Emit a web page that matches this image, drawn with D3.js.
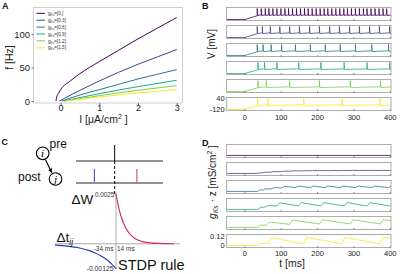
<!DOCTYPE html>
<html>
<head>
<meta charset="utf-8">
<script src="https://cdn.jsdelivr.net/npm/d3@7"></script>
<style>
body { margin: 0; background: #fff; }
svg { display: block; font-family: "Liberation Sans", Arial, sans-serif; }
</style>
</head>
<body>
<svg id="fig" width="400" height="274"></svg>
<script>
const svg = d3.select("#fig");

// ---------- data ----------
const gksLabels = ["0.", "0.3", "0.6", "0.9", "1.2", "1.5"];
const colors = ["#440154", "#414487", "#2a788e", "#22a884", "#7ad151", "#fde725"];

// panel A: f-I curves, [I, f]
const fi0 = [[-0.12,0],[-0.1,6],[-0.05,12],[0,17],[0.25,30],[0.5,41],[1,59],[1.5,76],[2,93],[2.5,109],[3,125]];
const fi1 = [[-0.03,0],[0.1,4],[0.5,16],[1,30],[1.5,43],[2,55],[2.5,66],[3,77]];
const fi2 = [[0.03,0],[0.5,9],[1,17],[1.5,25],[2,33],[2.5,40],[3,47]];
const fi3 = [[0.08,0],[1,11],[2,21.5],[3,31]];
const fi4 = [[0.12,0],[1,8],[2,16],[3,23]];
const fi5 = [[0.15,0],[1,6],[2,12],[3,17]];
const fiCurves = [fi0, fi1, fi2, fi3, fi4, fi5];
const aTicksX = [0, 1, 2, 3];
const aTicksY = [0, 50, 100];

// panel B: spike times [ms]
const spikes0 = [34,45,56,66,77,88,99,110,120,131,142,153,164,174,185,196,207,218,228,239,250,261,272,282,293,304,315,326,336,347,358,369,380,390];
const spikes1 = [34,48,70,96,123,150,178,205,233,260,288,315,343,370,398];
const spikes2 = [34,50,72,101,139,180,221,262,304,349,395];
const spikes3 = [36,54,88,148,209,273,336,398];
const spikes4 = [36,59,123,205,290,373];
const spikes5 = [35,64,162,267,372];
const spikeTimes = [spikes0, spikes1, spikes2, spikes3, spikes4, spikes5];
const vRest = -120, vOnset = -65, vPeak = 40, vReset = -62, vPre = -52;
const tTicks = [0, 100, 200, 300, 400];
const vTicks = [40, -120];

// panel D: gKs*z just before / after each spike
const gLow = [
  [],
  [0,0.008,0.016,0.023,0.029,0.033,0.035,0.036,0.036,0.036,0.037,0.037,0.037,0.037,0.037],
  [0,0.018,0.032,0.045,0.05,0.05,0.05,0.05,0.05,0.05,0.05],
  [0,0.028,0.045,0.045,0.045,0.045,0.045,0.045],
  [0,0.028,0.04,0.045,0.045,0.045],
  [0,0.028,0.02,0.02,0.02]
];
const gHigh = [
  [],
  [0.008,0.016,0.023,0.029,0.033,0.035,0.037,0.038,0.039,0.039,0.04,0.04,0.04,0.04,0.04],
  [0.02,0.035,0.05,0.066,0.07,0.07,0.07,0.07,0.07,0.07,0.07],
  [0.03,0.05,0.085,0.088,0.088,0.088,0.088,0.088],
  [0.03,0.07,0.095,0.1,0.1,0.1],
  [0.03,0.1,0.105,0.105,0.105]
];
const gEnd = [0, 0.038, 0.066, 0.088, 0.085, 0.088];
const gTicks = [0.12, 0];

// panel C: STDP window
const stdpDtPos = [0, 3, 6, 10, 15, 20, 30, 40, 55, 70, 95];
const stdpWPos = [0.0025, 0.00203, 0.00163, 0.00123, 0.00086, 0.0006, 0.00029, 0.00014, 0.00005, 0.000017, 0.000002];
const stdpDtNeg = [-100, -80, -60, -45, -34, -25, -15, -8, -3, 0];
const stdpWNeg = [-0.00007, -0.00012, -0.00021, -0.00033, -0.00046, -0.0006, -0.0008, -0.00099, -0.00114, -0.00125];
const preSpike = [0];
const postSpikes = [-21, 23];
const postColors = ["#2a3ec0", "#d1335f"];

// ---------- helpers ----------
function label(g, x, y, txt, size, opts) {
  opts = opts || {};
  return g.append("text").attr("x", x).attr("y", y).text(txt)
    .attr("font-size", size)
    .attr("text-anchor", opts.anchor || "start")
    .attr("font-weight", opts.weight || "normal")
    .attr("fill", opts.fill || "#111");
}

// ---------- panel letters ----------
label(svg, 2, 8.5, "A", 9, {weight: "bold"});
label(svg, 202, 8.5, "B", 9, {weight: "bold"});
label(svg, 1.5, 144.5, "C", 9, {weight: "bold"});
label(svg, 202, 145.5, "D", 9, {weight: "bold"});

// ---------- panel A ----------
const ax = d3.scaleLinear().domain([-0.7, 3.15]).range([33.5, 182.5]);
const ay = d3.scaleLinear().domain([-3, 140]).range([103, 7.5]);
const gA = svg.append("g");

gA.append("rect")
  .attr("x", ax.range()[0]).attr("y", ay.range()[1])
  .attr("width", ax.range()[1] - ax.range()[0])
  .attr("height", ay.range()[0] - ay.range()[1])
  .attr("fill", "none").attr("stroke", "#c4c4c4").attr("stroke-width", 0.8);

gA.append("g")
  .attr("transform", `translate(0,${ay.range()[0]})`)
  .call(d3.axisBottom(ax).tickValues(aTicksX).tickSize(2).tickPadding(0).tickFormat(d3.format("d")))
  .call(g => g.select(".domain").remove())
  .call(g => g.selectAll("text").attr("font-size", 9).attr("font-family", null).attr("fill", "#222"))
  .call(g => g.selectAll("line").attr("stroke", "#666"));

gA.append("g")
  .attr("transform", `translate(${ax.range()[0]},0)`)
  .call(d3.axisLeft(ay).tickValues(aTicksY).tickSize(2).tickPadding(1.5))
  .call(g => g.select(".domain").remove())
  .call(g => g.selectAll("text").attr("font-size", 9.5).attr("font-family", null).attr("fill", "#222"))
  .call(g => g.selectAll("line").attr("stroke", "#666"));

const fiLine = d3.line().x(d => ax(d[0])).y(d => ay(d[1])).curve(d3.curveMonotoneX);
gA.selectAll("path.fi")
  .data(fiCurves)
  .enter()
  .append("path")
  .attr("class", "fi")
  .attr("d", fiLine)
  .attr("fill", "none")
  .attr("stroke", (d, i) => colors[i])
  .attr("stroke-width", 1);

// legend
const leg = gA.append("g").attr("transform", "translate(36.5,13.3)");
gksLabels.forEach(function (lab, i) {
  const row = leg.append("g").attr("transform", `translate(0,${i * 6.9})`);
  row.append("line").attr("x1", 0).attr("x2", 8.5).attr("y1", 0).attr("y2", 0)
    .attr("stroke", colors[i]).attr("stroke-width", 1);
  const t = row.append("text").attr("x", 11.5).attr("y", 0).attr("dy", "0.35em")
    .attr("font-size", 4.6).attr("fill", "#333");
  t.append("tspan").text("g");
  t.append("tspan").text("Ks").attr("font-size", 3.2).attr("dy", 1);
  t.append("tspan").text("=[" + lab + "]").attr("dy", -1);
});

// axis labels
label(gA, 0, 0, "f [Hz]", 10.5, {anchor: "middle", fill: "#222"})
  .attr("transform", "translate(12.5,57.5) rotate(-90)");
const xl = label(gA, 103.5, 123, "", 10.5, {anchor: "middle", fill: "#222"});
xl.append("tspan").text("I [μA/cm");
xl.append("tspan").text("2").attr("font-size", 7).attr("dy", -4);
xl.append("tspan").text(" ]").attr("dy", 4);

// ---------- panels B and D (stacked traces) ----------
const tx = d3.scaleLinear().domain([-50, 402]).range([226.7, 391]);
const rowH = 13, rowStep = 18;
const vy = d3.scaleLinear().domain([-135, 55]).range([rowH, 0]);
const gy = d3.scaleLinear().domain([-0.027, 0.142]).range([rowH, 0]);

function voltagePoints(sp) {
  const pts = [[-50, vRest], [0, vRest], [sp[0], vOnset]];
  sp.forEach(function (t, i) {
    if (i > 0) pts.push([t, vPre]);
    pts.push([t, vPeak], [t + 1, vReset]);
  });
  pts.push([410, vPre]);
  return pts;
}

function gPoints(sp, lo, hi, end) {
  const pts = [[-50, 0]];
  sp.forEach(function (t, i) {
    pts.push([t, lo[i]], [t + 8, hi[i]]);
  });
  pts.push([410, end]);
  return pts;
}

function stack(top0, series, yScale, yTicks, id, xLabOff) {
  const g = svg.append("g");
  g.append("clipPath").attr("id", id)
    .append("rect").attr("x", tx.range()[0]).attr("y", 0)
    .attr("width", tx.range()[1] - tx.range()[0]).attr("height", rowH);
  const line = d3.line().x(d => tx(d[0])).y(d => yScale(d[1]));
  series.forEach(function (pts, i) {
    const row = g.append("g").attr("transform", `translate(0,${top0 + i * rowStep})`);
    row.append("path").attr("d", line(pts))
      .attr("fill", "none").attr("stroke", colors[i]).attr("stroke-width", 0.8)
      .attr("clip-path", `url(#${id})`);
    row.append("rect")
      .attr("x", tx.range()[0]).attr("y", 0)
      .attr("width", tx.range()[1] - tx.range()[0]).attr("height", rowH)
      .attr("fill", "none").attr("stroke", "#8a8a8a").attr("stroke-width", 0.7);
    row.selectAll("line.tk").data(tTicks).enter().append("line")
      .attr("x1", d => tx(d)).attr("x2", d => tx(d))
      .attr("y1", rowH).attr("y2", rowH - 1.5)
      .attr("stroke", "#444").attr("stroke-width", 0.6);
    if (i === series.length - 1) {
      row.selectAll("text.yt").data(yTicks).enter().append("text")
        .attr("x", tx.range()[0] - 2).attr("y", d => yScale(d)).attr("dy", "0.35em")
        .attr("text-anchor", "end").attr("font-size", 7.5).attr("fill", "#222")
        .text(d => d);
      row.selectAll("text.xt").data(tTicks).enter().append("text")
        .attr("x", d => tx(d)).attr("y", rowH + xLabOff)
        .attr("text-anchor", "middle").attr("font-size", 7.5).attr("fill", "#222")
        .text(d => d);
    }
  });
  return g;
}

const vSeries = spikeTimes.map(voltagePoints);
const gB = stack(7.5, vSeries, vy, vTicks, "clipB", 9.8);
label(gB, 0, 0, "V [mV]", 10, {anchor: "middle", fill: "#222"})
  .attr("transform", "translate(214.5,44) rotate(-90)");

const gSeries = spikeTimes.map((sp, i) => gPoints(i === 0 ? [] : sp, gLow[i], gHigh[i], gEnd[i]));
const gD = stack(144.5, gSeries, gy, gTicks, "clipD", 8.8);
const dl = label(gD, 0, 0, "", 10, {anchor: "middle", fill: "#222"})
  .attr("transform", "translate(216,182) rotate(-90)");
dl.append("tspan").text("g").attr("font-style", "italic");
dl.append("tspan").text("Ks").attr("font-style", "italic").attr("font-size", 7).attr("dy", 2);
dl.append("tspan").text(" · z [mS/cm").attr("dy", -2);
dl.append("tspan").text("2").attr("font-size", 7).attr("dy", -4);
dl.append("tspan").text(" ]").attr("dy", 4);
label(gD, 292, 267, "t [ms]", 10.5, {anchor: "middle", fill: "#222"});

// ---------- panel C ----------
const gC = svg.append("g");

// neurons
const neurons = [{name: "i", x: 42.7, y: 153.3}, {name: "j", x: 55.5, y: 179}];
gC.append("defs").append("marker")
  .attr("id", "arrowC").attr("viewBox", "0 0 10 10")
  .attr("refX", 9).attr("refY", 5)
  .attr("markerWidth", 4).attr("markerHeight", 4)
  .attr("orient", "auto")
  .append("path").attr("d", "M0,0L10,5L0,10z").attr("fill", "#000");
gC.append("line").attr("x1", 45.5).attr("y1", 159.8).attr("x2", 51.8).attr("y2", 172.6)
  .attr("stroke", "#000").attr("stroke-width", 1.1).attr("marker-end", "url(#arrowC)");
neurons.forEach(function (n) {
  gC.append("circle").attr("cx", n.x).attr("cy", n.y).attr("r", 6.3)
    .attr("fill", "#fff").attr("stroke", "#000").attr("stroke-width", 1.1);
  gC.append("text").attr("x", n.x).attr("y", n.y).attr("dy", "0.35em")
    .attr("text-anchor", "middle").attr("font-size", 10).attr("font-style", "italic")
    .attr("font-family", "'DejaVu Serif', serif").text(n.name);
});
label(gC, 49.5, 148, "pre", 12, {});
label(gC, 18, 180.5, "post", 12, {});

// spike raster
const rx = d3.scaleLinear().domain([-40, 50]).range([76, 163]);
const preY = 161, postY = 183;
[preY, postY].forEach(function (y) {
  gC.append("line").attr("x1", rx.range()[0]).attr("x2", rx.range()[1])
    .attr("y1", y).attr("y2", y).attr("stroke", "#222").attr("stroke-width", 1);
});
gC.selectAll("line.pre").data(preSpike).enter().append("line")
  .attr("x1", d => rx(d)).attr("x2", d => rx(d)).attr("y1", 145).attr("y2", preY)
  .attr("stroke", "#000").attr("stroke-width", 1);
gC.selectAll("line.dash").data(preSpike).enter().append("line")
  .attr("x1", d => rx(d)).attr("x2", d => rx(d)).attr("y1", preY).attr("y2", 194)
  .attr("stroke", "#000").attr("stroke-width", 1).attr("stroke-dasharray", "3,2");
gC.selectAll("line.post").data(postSpikes).enter().append("line")
  .attr("x1", d => rx(d)).attr("x2", d => rx(d)).attr("y1", 169).attr("y2", 182)
  .attr("stroke", (d, i) => postColors[i]).attr("stroke-width", 1);

// STDP window
const sx = d3.scaleLinear().domain([-100, 105]).range([55, 180]);
const sy = d3.scaleLinear().domain([-0.00125, 0.0025]).range([268.7, 194]);
gC.append("line").attr("x1", sx(-100)).attr("x2", sx(105)).attr("y1", sy(0)).attr("y2", sy(0))
  .attr("stroke", "#aaa").attr("stroke-width", 1);
gC.append("line").attr("x1", sx(0)).attr("x2", sx(0)).attr("y1", 192).attr("y2", 269)
  .attr("stroke", "#aaa").attr("stroke-width", 1);
const stdpLine = d3.line().x(d => sx(d[0])).y(d => sy(d[1])).curve(d3.curveMonotoneX);
gC.append("path").attr("d", stdpLine(stdpDtPos.map((d, i) => [d, stdpWPos[i]])))
  .attr("fill", "none").attr("stroke", postColors[1]).attr("stroke-width", 1.2);
gC.append("path").attr("d", stdpLine(stdpDtNeg.map((d, i) => [d, stdpWNeg[i]])))
  .attr("fill", "none").attr("stroke", postColors[0]).attr("stroke-width", 1.2);

label(gC, 71.5, 203.5, "ΔW", 13.5, {});
label(gC, 95, 197, "0.0025", 6.3, {fill: "#333"});
const dt = label(gC, 56.5, 241.5, "Δt", 13.5, {});
dt.append("tspan").text("ij").attr("font-style", "italic").attr("font-size", 8.5).attr("dy", 3);
label(gC, 113.5, 251, "-34 ms", 6.5, {anchor: "end", fill: "#333"});
label(gC, 117, 251, "14 ms", 6.5, {fill: "#333"});
label(gC, 113.5, 270.5, "-0.00125", 6.8, {anchor: "end", fill: "#333"});
label(gC, 118, 270, "STDP rule", 14.5, {});
</script>
</body>
</html>
